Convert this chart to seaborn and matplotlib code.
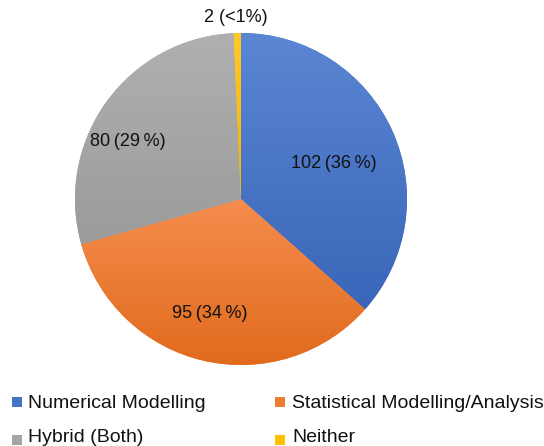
import numpy as np
import matplotlib
matplotlib.use("Agg")
import matplotlib.pyplot as plt
import seaborn as sns
from matplotlib.patches import Rectangle
from matplotlib.colors import to_rgb

sns.set_theme(style="white")
plt.rcParams["font.family"] = ["Liberation Sans", "DejaVu Sans"]

categories = ["Numerical Modelling", "Statistical Modelling/Analysis", "Hybrid (Both)", "Neither"]
counts = [102, 95, 80, 2]
pct_labels = ["36\u2009%", "34\u2009%", "29\u2009%", "<1%"]
gaps = ["\u2009", "\u2009", "\u2009", " "]
base_colors = ["#4472C4", "#ED7D31", "#A5A5A5", "#FFC000"]
top_colors = ["#5B86D3", "#F58D4E", "#B0B0B0", "#FFC72C"]
bottom_colors = ["#3A66B9", "#E06A1C", "#9B9B9B", "#F2B500"]

W, H = 544, 446
fig = plt.figure(figsize=(W / 100, H / 100), dpi=100)

cx, cy, r = 241, 199, 166
ax = fig.add_axes([(cx - r) / W, (H - cy - r) / H, 2 * r / W, 2 * r / H])
wedges, _ = ax.pie(counts, colors=base_colors, startangle=90, counterclock=False,
                   radius=1.0, wedgeprops=dict(linewidth=0))
ax.set_xlim(-1, 1)
ax.set_ylim(-1, 1)
ax.set_aspect("equal")
ax.axis("off")

# vertical gradient inside every slice
for w, ct, cb in zip(wedges, top_colors, bottom_colors):
    path = w.get_path()
    verts = w.get_transform().transform(path.vertices)
    verts = ax.transData.inverted().transform(verts)
    x0, x1 = verts[:, 0].min(), verts[:, 0].max()
    y0, y1 = verts[:, 1].min(), verts[:, 1].max()
    t = np.linspace(0, 1, 256)[:, None]
    c_top, c_bot = np.array(to_rgb(ct)), np.array(to_rgb(cb))
    grad = c_top[None, None, :] * (1 - t[:, :, None]) + c_bot[None, None, :] * t[:, :, None]
    grad = np.repeat(grad, 2, axis=1)
    im = ax.imshow(grad, extent=[x0, x1, y0, y1], origin="upper", aspect="auto",
                   interpolation="bilinear", zorder=w.get_zorder() + 0.1)
    im.set_clip_path(w)

ax.set_xlim(-1, 1)
ax.set_ylim(-1, 1)

# data labels (pixel positions converted to axes data coordinates)
label_px = [(334, 164), (210, 313), (128, 142), (236, 17)]
for (px, py), n, g, p in zip(label_px, counts, gaps, pct_labels):
    x = (px - cx) / r
    y = (cy - py) / r
    ax.text(x, y, f"{n}{g}({p})", ha="center", va="center", fontsize=13,
            color="#111111", zorder=10, clip_on=False)

# legend laid out row by row, two columns
col_marker_x = [12, 275]
col_text_x = [28, 292]
row_marker_y = [402, 440]
row_baseline_y = [408, 442]
sq = 9.5
for i, (name, c) in enumerate(zip(categories, base_colors)):
    row, col = divmod(i, 2)
    ym = row_marker_y[row]
    fig.patches.append(Rectangle((col_marker_x[col] / W, (H - ym - sq / 2) / H),
                                 sq / W, sq / H, transform=fig.transFigure,
                                 facecolor=c, edgecolor="none"))
    fig.text(col_text_x[col] / W, (H - row_baseline_y[row]) / H, name, ha="left",
             va="baseline", fontsize=14, color="#111111")

fig.savefig("out.png", dpi=100, facecolor="white")
